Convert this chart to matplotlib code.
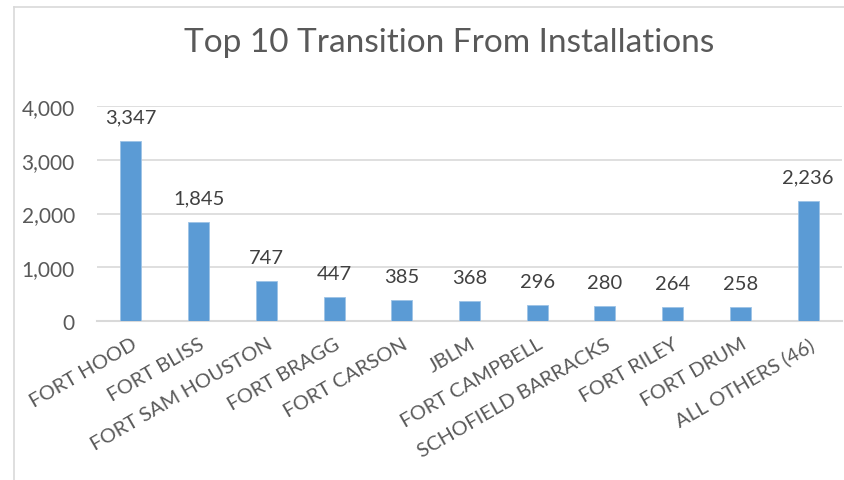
import matplotlib
matplotlib.use("Agg")
import matplotlib.pyplot as plt
from matplotlib.ticker import FuncFormatter
from matplotlib.lines import Line2D

plt.rcParams["font.family"] = ["Lato", "DejaVu Sans"]

# data
installations = ["FORT HOOD", "FORT BLISS", "FORT SAM HOUSTON", "FORT BRAGG",
                 "FORT CARSON", "JBLM", "FORT CAMPBELL", "SCHOFIELD BARRACKS",
                 "FORT RILEY", "FORT DRUM", "ALL OTHERS (46)"]
transitions = [3347, 1845, 747, 447, 385, 368, 296, 280, 264, 258, 2236]

BAR = "#5B9BD5"
GRID = "#D9D9D9"
TEXT = "#595959"

fig = plt.figure(figsize=(8.44, 4.81), dpi=100)
ax = fig.add_axes([97 / 844, 1 - 322 / 481, 745 / 844, 215 / 481])

x = range(len(installations))
bars = ax.bar(x, transitions, width=0.31, color=BAR, zorder=3,
              edgecolor="#9DC3E6", linewidth=0.6)

for b, v in zip(bars, transitions):
    ax.annotate(f"{v:,}", (b.get_x() + b.get_width() / 2, v),
                xytext=(0, 11), textcoords="offset points",
                ha="center", va="bottom", fontsize=14.5, color="#404040")

ax.set_xlim(-0.5, len(installations) - 0.5)
ax.set_ylim(0, 4000)
ax.set_yticks(range(0, 4001, 1000))
ax.yaxis.set_major_formatter(FuncFormatter(lambda v, p: f"{int(v):,}"))
ax.grid(axis="y", color=GRID, linewidth=1.2, zorder=0)

ax.set_xticks(list(x))
ax.set_xticklabels(installations, rotation=30, ha="right",
                   rotation_mode="anchor", fontsize=14.5, color=TEXT)
ax.tick_params(axis="y", labelsize=15, labelcolor=TEXT, length=0, pad=16)
ax.tick_params(axis="x", length=0, pad=10)

for s in ["top", "right", "left"]:
    ax.spines[s].set_visible(False)
ax.spines["bottom"].set_color(GRID)
ax.spines["bottom"].set_linewidth(1.5)

fig.text(449 / 844, 1 - 43 / 481, "Top 10 Transition From Installations",
         ha="center", va="center", fontsize=24, color=TEXT)

# chart frame, cropped at right and bottom
fig.add_artist(Line2D([14 / 844, 14 / 844], [0, 1 - 8 / 481],
                      color=GRID, linewidth=1.2))
fig.add_artist(Line2D([14 / 844, 1], [1 - 8 / 481, 1 - 8 / 481],
                      color=GRID, linewidth=1.2))

fig.savefig("out.png", dpi=100)
